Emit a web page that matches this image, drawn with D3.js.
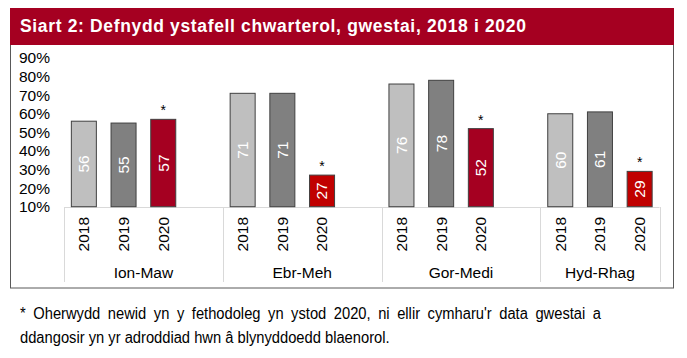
<!DOCTYPE html>
<html>
<head>
<meta charset="utf-8">
<script src="https://cdn.jsdelivr.net/npm/d3@7"></script>
<style>
  html, body { margin: 0; padding: 0; background: #fff; }
  svg { display: block; font-family: "Liberation Sans", Arial, sans-serif; }
</style>
</head>
<body>
<svg id="chart" width="687" height="358"></svg>
<script>
// ---- data ----
const groups = ["Ion-Maw", "Ebr-Meh", "Gor-Medi", "Hyd-Rhag"];
const years = ["2018", "2019", "2020"];
const values2018 = [56, 71, 76, 60];
const values2019 = [55, 71, 78, 61];
const values2020 = [57, 27, 52, 29];
const flagged2020 = [true, true, true, true];   // asterisk markers
const yTicks = [10, 20, 30, 40, 50, 60, 70, 80, 90];
const titleText = "Siart 2: Defnydd ystafell chwarterol, gwestai, 2018 i 2020";
const footnoteLines = [
  "* Oherwydd newid yn y fethodoleg yn ystod 2020, ni ellir cymharu'r data gwestai a",
  "ddangosir yn yr adroddiad hwn â blynyddoedd blaenorol."
];

// ---- styles ----
const yearFill = { "2018": "#BFBFBF", "2019": "#808080" };
const red2020 = ["#A50021", "#C00000", "#A50021", "#C00000"];
const seriesValues = [values2018, values2019, values2020];

const svg = d3.select("#chart");

// chart frame
svg.append("rect").attr("x", 10.5).attr("y", 44.5).attr("width", 663).attr("height", 243.5)
  .attr("fill", "none").attr("stroke", "#595959").attr("stroke-width", 1);
// banner
svg.append("rect").attr("x", 10).attr("y", 8).attr("width", 664).attr("height", 37)
  .attr("fill", "#A50021");
svg.append("text").attr("x", 20).attr("y", 31.5)
  .attr("fill", "#fff").attr("font-size", 17.5).attr("font-weight", "bold")
  .attr("letter-spacing", 0.65)
  .text(titleText);

// slots: 4 per group (3 years + gap), last gap omitted
const slots = [];
groups.forEach((g, gi) => {
  years.forEach(y => slots.push(g + "|" + y));
  if (gi < groups.length - 1) slots.push("gap" + gi);
});

const x = d3.scaleBand().domain(slots).range([64, 659.5])
  .paddingInner(0.37).paddingOuter(0.185);
const y = d3.scaleLinear().domain([10, 90]).range([206.7, 58]);

// y tick labels
const yAxis = d3.axisLeft(y).tickValues(yTicks).tickFormat(d => d + "%").tickSize(0).tickPadding(0);
const gy = svg.append("g").attr("transform", "translate(50,0)").call(yAxis);
gy.select(".domain").remove();
gy.selectAll("text").attr("font-size", 15.5).attr("fill", "#000")
  .attr("font-family", "Liberation Sans, Arial, sans-serif");

// category axis lines
const axisColor = "#D9D9D9";
svg.append("line").attr("x1", x.range()[0]).attr("x2", x.range()[1])
  .attr("y1", 207.5).attr("y2", 207.5).attr("stroke", axisColor);
const slotStart = s => x(s) - x.step() * x.paddingInner() / 2;
const seps = groups.map(g => slotStart(g + "|2018"));
seps.push(x.range()[1]);
seps.forEach(sx => {
  svg.append("line").attr("x1", Math.round(sx) + 0.5).attr("x2", Math.round(sx) + 0.5)
    .attr("y1", 207).attr("y2", 282).attr("stroke", axisColor);
});

// bars
const bars = [];
groups.forEach((g, gi) => {
  years.forEach((yr, yi) => {
    bars.push({
      g, gi, yr, yi, v: seriesValues[yi][gi],
      fill: yi === 2 ? red2020[gi] : yearFill[yr],
      flag: yi === 2 && flagged2020[gi]
    });
  });
});

svg.append("g").selectAll("rect").data(bars).join("rect")
  .attr("x", d => x(d.g + "|" + d.yr))
  .attr("y", d => y(d.v))
  .attr("width", x.bandwidth())
  .attr("height", d => y(10) - y(d.v))
  .attr("fill", d => d.fill)
  .attr("stroke", "#404040").attr("stroke-width", 1);

// value labels
svg.append("g").selectAll("text").data(bars).join("text")
  .attr("transform", d => {
    const cx = x(d.g + "|" + d.yr) + x.bandwidth() / 2;
    const cy = (y(d.v) + y(10)) / 2;
    return `translate(${cx},${cy}) rotate(-90)`;
  })
  .attr("text-anchor", "middle").attr("dy", "0.35em")
  .attr("fill", "#fff").attr("font-size", 15.5)
  .text(d => d.v);

// asterisks
svg.append("g").selectAll("text").data(bars.filter(d => d.flag)).join("text")
  .attr("x", d => x(d.g + "|" + d.yr) + x.bandwidth() / 2)
  .attr("y", d => y(d.v) - 4)
  .attr("text-anchor", "middle").attr("font-size", 14).attr("fill", "#000")
  .text("*");

// year labels
svg.append("g").selectAll("text").data(bars).join("text")
  .attr("transform", d => `translate(${x(d.g + "|" + d.yr) + x.bandwidth() / 2},217) rotate(-90)`)
  .attr("text-anchor", "end").attr("dy", "0.35em")
  .attr("font-size", 15.5).attr("fill", "#000")
  .text(d => d.yr);

// group labels
svg.append("g").selectAll("text").data(groups).join("text")
  .attr("x", (g, i) => (seps[i] + seps[i + 1]) / 2)
  .attr("y", 278)
  .attr("text-anchor", "middle").attr("font-size", 15.5).attr("fill", "#000")
  .text(g => g);

// footnote: slightly narrow face, first line justified
const k = 0.92;
const fn = svg.append("g").attr("transform", `translate(20,0) scale(${k},1)`);
const fnText = fn.selectAll("text").data(footnoteLines).join("text")
  .attr("x", 0).attr("y", (d, i) => 319 + i * 24)
  .attr("font-size", 16).attr("fill", "#000")
  .text(d => d);
const first = fnText.filter((d, i) => i === 0);
const natural = first.node().getComputedTextLength();
const gaps = footnoteLines[0].split(" ").length - 1;
const target = (601 - 20) / k;
first.attr("word-spacing", Math.max(0, (target - natural) / gaps));
</script>
</body>
</html>
